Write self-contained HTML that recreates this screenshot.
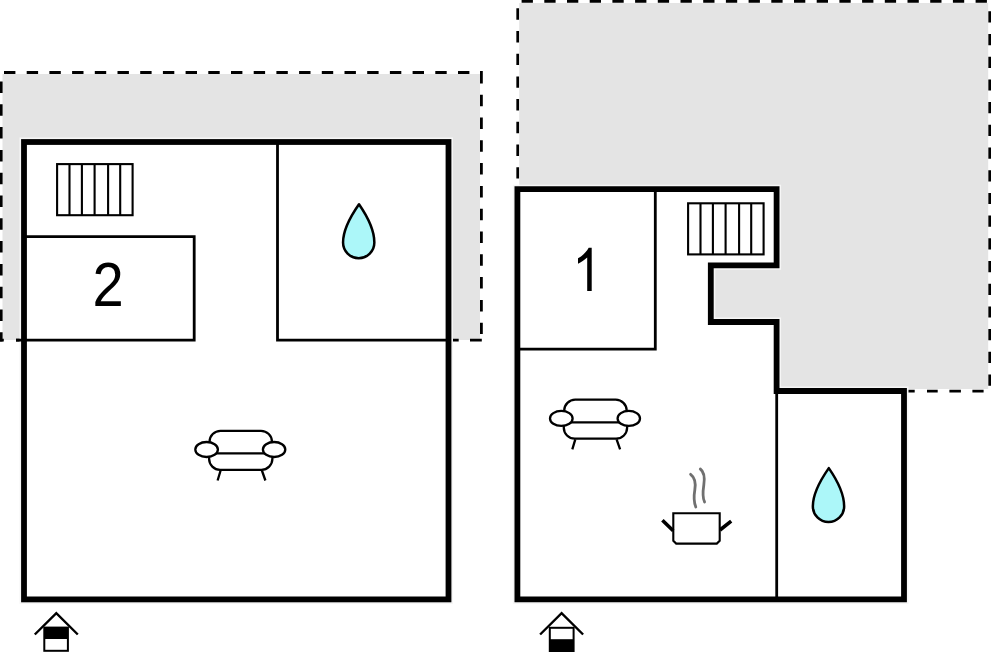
<!DOCTYPE html>
<html><head><meta charset="utf-8">
<style>
html,body{margin:0;padding:0;background:#fff;}
body{width:991px;height:652px;overflow:hidden;}
svg{display:block;}
text{font-family:"Liberation Sans",sans-serif;}
</style></head>
<body>
<svg width="991" height="652" viewBox="0 0 991 652">


<!-- LEFT BUILDING -->
<rect x="2.5" y="74" width="477.5" height="266" fill="#e4e4e4"/>
<g stroke="#000" stroke-width="2.8" fill="none">
  <path d="M4 72.5 H481" stroke-dasharray="11.4 11.3"/>
  <path d="M1.2 81.5 V341.5" stroke-dasharray="11.5 11.3"/>
  <path d="M481.4 71.1 V72.5 M481.4 71.9 V334" stroke-dasharray="11.5 11.3"/>
  <path d="M0 340.2 H3.8 M16 340.2 H27"/>
  <path d="M447 340.2 H458.7 M470 340.2 H481.8"/>
</g>
<rect x="24" y="142" width="424.5" height="457.4" fill="none" stroke="#f6f6f6" stroke-width="9"/>
<rect x="24" y="142" width="424.5" height="457.4" fill="#fff" stroke="#000" stroke-width="5.8"/>
<g stroke="#000" stroke-width="2.8" fill="none">
  <path d="M16 340.2 H194.2 V236.7 H26"/>
  <path d="M277.5 143 V340.2 H447"/>
</g>
<g fill="none" stroke="#000" stroke-width="2.1">
    <rect x="57.1" y="164.1" width="75.5" height="51.1" fill="#fff"/>
    <path d="M69.5 164.1 V215.2 M81.9 164.1 V215.2 M94.6 164.1 V215.2 M108.1 164.1 V215.2 M120.2 164.1 V215.2"/>
  </g>
<path d="M359 204.3 C352.2 214 343.05 228 343.05 242.5 A15.65 15.65 0 0 0 374.35 242.5 C374.35 228 365.7 214 359 204.3 Z" fill="#acf7f9" stroke="#000" stroke-width="2.5" stroke-linejoin="round"/>
<g fill="none" stroke="#000" stroke-width="2.3">
    <path d="M209.5 453.4 V441.7 A11 11 0 0 1 220.5 430.8 H261 A11 11 0 0 1 272 441.7 V453.4 M209.1 453.4 V458.8 A11 11 0 0 0 220.1 469.8 H261.4 A11 11 0 0 0 272.4 458.8 V453.4"/>
    <path d="M209.4 453.4 H272.1"/>
    <ellipse cx="206.6" cy="449.5" rx="11.3" ry="7.5" fill="#fff"/>
    <ellipse cx="274.1" cy="449.5" rx="11.2" ry="7.5" fill="#fff"/>
    <path d="M220.6 470.5 L217.6 480.5 M261.9 470.5 L265.4 480.5"/>
  </g>
<text x="0" y="0" font-size="63" text-anchor="middle" transform="translate(108 305.6) scale(0.89 1)">2</text>

<!-- house icon 1 -->
<g stroke="#000" fill="none">
  <path d="M34.8 634.5 L56.3 613.2 L77.8 634.5" stroke-width="2.4"/>
  <rect x="44.3" y="627.6" width="23.6" height="23.2" fill="#fff" stroke-width="2"/>
  <rect x="44.3" y="627.6" width="23.6" height="11.4" fill="#000" stroke="none"/>
</g>

<!-- RIGHT BUILDING -->
<rect x="519.2" y="3" width="469" height="386" fill="#e4e4e4"/>
<g stroke="#000" stroke-width="2.7" fill="none">
  <path d="M521.6 1.3 H989" stroke-dasharray="11.3 11.4"/>
  <path d="M517.7 8.3 V188" stroke-dasharray="11.4 11.3"/>
  <path d="M989.7 11.3 V391" stroke-dasharray="11.2 11.5"/>
  <path d="M905 391.2 H914.7 M927 391.2 H937.7 M949.4 391.2 H960.9 M972.4 391.2 H983.6"/>
</g>
<path d="M517.4 189.2 H776.6 V265.3 H710.8 V322 H776.6 V391 H904 V599.4 H517.4 Z" fill="none" stroke="#f6f6f6" stroke-width="9"/>
<path d="M517.4 189.2 H776.6 V265.3 H710.8 V322 H776.6 V391 H904 V599.4 H517.4 Z" fill="#fff" stroke="#000" stroke-width="5.8"/>
<g stroke="#000" stroke-width="2.8" fill="none">
  <path d="M776.7 393 V597"/>
  <path d="M655.3 191 V349.2 H519"/>
</g>
<g transform="translate(631 39.2)"><g fill="none" stroke="#000" stroke-width="2.1">
    <rect x="57.1" y="164.1" width="75.5" height="51.1" fill="#fff"/>
    <path d="M69.5 164.1 V215.2 M81.9 164.1 V215.2 M94.6 164.1 V215.2 M108.1 164.1 V215.2 M120.2 164.1 V215.2"/>
  </g></g>
<g transform="translate(354.7 -31.1)"><g fill="none" stroke="#000" stroke-width="2.3">
    <path d="M209.5 453.4 V441.7 A11 11 0 0 1 220.5 430.8 H261 A11 11 0 0 1 272 441.7 V453.4 M209.1 453.4 V458.8 A11 11 0 0 0 220.1 469.8 H261.4 A11 11 0 0 0 272.4 458.8 V453.4"/>
    <path d="M209.4 453.4 H272.1"/>
    <ellipse cx="206.6" cy="449.5" rx="11.3" ry="7.5" fill="#fff"/>
    <ellipse cx="274.1" cy="449.5" rx="11.2" ry="7.5" fill="#fff"/>
    <path d="M220.6 470.5 L217.6 480.5 M261.9 470.5 L265.4 480.5"/>
  </g></g>
<g transform="translate(469.8 263.8)"><path d="M359 204.3 C352.2 214 343.05 228 343.05 242.5 A15.65 15.65 0 0 0 374.35 242.5 C374.35 228 365.7 214 359 204.3 Z" fill="#acf7f9" stroke="#000" stroke-width="2.5" stroke-linejoin="round"/></g>
<path d="M591.7 247.8 V291 H587.2 V257.4 C584.5 259.8 581 262 578 263.7 V258.2 C582 256.3 586 252.5 588.7 247.8 Z" fill="#000"/>

<!-- pot -->
<g fill="none" stroke="#000">
  <path d="M673.3 513.3 H719.7 V540.8 L716.8 543.6 H676.2 L673.3 540.8 Z" fill="#fff" stroke-width="2.1"/>
  <path d="M662.4 520.3 L673.2 530.8 M731.2 521.2 L720 530" stroke-width="3.6"/>
  <path d="M690.6 474.3 C695.5 478 696 483 694.8 490 C693.6 497 693.8 502 695.8 507" stroke="#707070" stroke-width="2.8" stroke-linecap="round"/>
  <path d="M700.3 469 C704.5 472 705 477 703.8 485 C702.6 493 702.5 498 704.6 502" stroke="#707070" stroke-width="2.8" stroke-linecap="round"/>
</g>

<!-- house icon 2 -->
<g stroke="#000" fill="none">
  <path d="M540.1 634.5 L561.6 613.2 L583.1 634.5" stroke-width="2.4"/>
  <rect x="549.8" y="627.8" width="23.8" height="30" fill="#fff" stroke-width="2"/>
  <rect x="549.8" y="639.2" width="23.8" height="14" fill="#000" stroke="none"/>
</g>
</svg>
</body></html>
